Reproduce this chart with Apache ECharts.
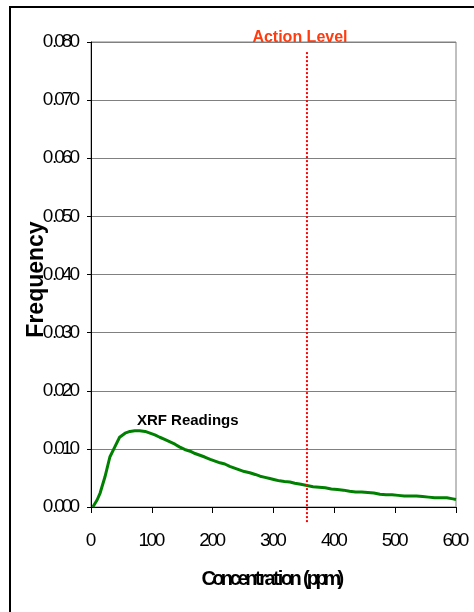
<!DOCTYPE html>
<html><head><meta charset="utf-8">
<script src="https://cdn.jsdelivr.net/npm/echarts@6/dist/echarts.min.js"></script>
<style>html,body{margin:0;padding:0;background:#fff}#c{width:474px;height:612px}</style>
</head><body><div id="c"></div>
<script>
const concentration = [3,10,15,23,31,39,47,56,64,72,80,89,97,105,113,122,130,138,146,154,163,171,179,187,196,204,212,220,228,236,244,252,261,270,278,286,294,302,310,318,327,335,345,355,365,375,385,395,405,415,425,435,445,455,465,475,485,495,505,515,525,535,545,555,565,575,585,595,600];
const frequency = [0,0.0012,0.0024,0.0052,0.0086,0.0103,0.0120,0.0127,0.0130,0.0131,0.0131,0.0130,0.0127,0.0124,0.0120,0.0116,0.0112,0.0108,0.0103,0.0099,0.0096,0.0092,0.0089,0.0086,0.0082,0.0079,0.0076,0.0074,0.0070,0.0067,0.0064,0.0061,0.0059,0.0056,0.0053,0.0051,0.0049,0.0047,0.0045,0.0044,0.0043,0.0041,0.0039,0.0037,0.0035,0.0034,0.0033,0.0031,0.0030,0.0029,0.0027,0.0026,0.0026,0.0025,0.0024,0.0022,0.0021,0.0021,0.0020,0.0019,0.0019,0.0019,0.0018,0.0017,0.0016,0.0016,0.0016,0.0014,0.0013];
const actionLevel = 355;
const actionLevelSpan = [-0.0026, 0.0783];
const seriesLabel = 'XRF Readings';
const seriesLabelAt = [159, 0.0148];
const xTicks = [0,100,200,300,400,500,600];
const yTicks = [0,0.01,0.02,0.03,0.04,0.05,0.06,0.07,0.08];
const xName = 'Concentration (ppm)';
const yName = 'Frequency';

const sans = "'Liberation Sans',Arial,sans-serif";
const mctx = document.createElement('canvas').getContext('2d');
// condensed look: each character in its own rich box narrower than the glyph
function squeeze(text, size, weight, factor, prefix, rich) {
  mctx.font = weight + ' ' + size + 'px ' + sans;
  let out = '';
  for (const ch of text) {
    const key = prefix + ch.charCodeAt(0);
    if (!rich[key]) rich[key] = {width: mctx.measureText(ch).width * factor, fontSize: size, fontWeight: weight, fontFamily: sans, color: '#000'};
    out += '{' + key + '|' + ch + '}';
  }
  return out;
}
const xTickRich = {};
squeeze('0123456789.', 19, 'normal', 0.77, 't', xTickRich);
const yTickRich = {};
squeeze('0123456789.', 19, 'normal', 0.72, 'y', yTickRich);
const xNameRich = {};
const xNameText = squeeze(xName, 20, 'bold', 0.71, 'n', xNameRich);

const chart = echarts.init(document.getElementById('c'), null, {renderer:'canvas'});
chart.setOption({
  animation:false,
  graphic:[{type:'rect', shape:{x:10,y:7,width:600,height:800}, style:{fill:'none', stroke:'#000', lineWidth:2}, z:-1}],
  grid:{left:91, top:42, right:18, bottom:105, containLabel:false, outerBoundsMode:'none', show:true, borderColor:'#808080', borderWidth:1},
  xAxis:{type:'value', min:xTicks[0], max:xTicks[xTicks.length-1], interval:100,
    name:xNameText, nameLocation:'middle', nameGap:62, nameMoveOverlap:false,
    nameTextStyle:{fontFamily:sans, fontWeight:'bold', fontSize:20, color:'#000', rich:xNameRich},
    axisLine:{lineStyle:{color:'#000', width:1}},
    axisTick:{show:true, length:6, lineStyle:{color:'#000'}},
    axisLabel:{fontFamily:sans, fontSize:19, color:'#000', margin:24, rich:xTickRich,
      formatter:v=>squeeze(String(v), 19, 'normal', 0.77, 't', xTickRich)},
    splitLine:{show:false}},
  yAxis:{type:'value', min:yTicks[0], max:yTicks[yTicks.length-1], interval:0.01,
    name:yName, nameLocation:'middle', nameGap:43, nameMoveOverlap:false,
    nameTextStyle:{fontFamily:sans, fontWeight:'bold', fontSize:23, color:'#000', padding:[0,10,0,0]},
    axisLine:{show:true, lineStyle:{color:'#000', width:1}},
    axisTick:{show:true, length:4, lineStyle:{color:'#000'}},
    axisLabel:{fontFamily:sans, fontSize:19, color:'#000', margin:11, rich:yTickRich,
      formatter:v=>squeeze(v.toFixed(3), 19, 'normal', 0.72, 'y', yTickRich)},
    splitLine:{show:true, lineStyle:{color:'#808080', width:1}}},
  series:[
    {type:'line', data:concentration.map((x,i)=>[x,frequency[i]]), showSymbol:false, smooth:false,
     lineStyle:{color:'#008000', width:3}, itemStyle:{color:'#008000'},
     markPoint:{symbol:'circle', symbolSize:0, silent:true,
       label:{show:true, position:'inside', formatter:seriesLabel, fontFamily:sans, fontWeight:'bold', fontSize:15, color:'#000'},
       data:[{coord:seriesLabelAt}]}},
    {type:'line', clip:false, showSymbol:false, silent:true,
     data:[[actionLevel, actionLevelSpan[0]], [actionLevel, actionLevelSpan[1]]],
     lineStyle:{color:'#ff0000', width:2, type:'dotted'}, itemStyle:{color:'#ff0000'},
     markPoint:{symbol:'circle', symbolSize:0, silent:true,
       label:{show:true, position:'top', distance:6, offset:[-7,0], formatter:'Action Level', fontFamily:sans, fontWeight:'bold', fontSize:16, color:'#ff3b10'},
       data:[{coord:[actionLevel, actionLevelSpan[1]]}]}}
  ]
});
</script></body></html>
